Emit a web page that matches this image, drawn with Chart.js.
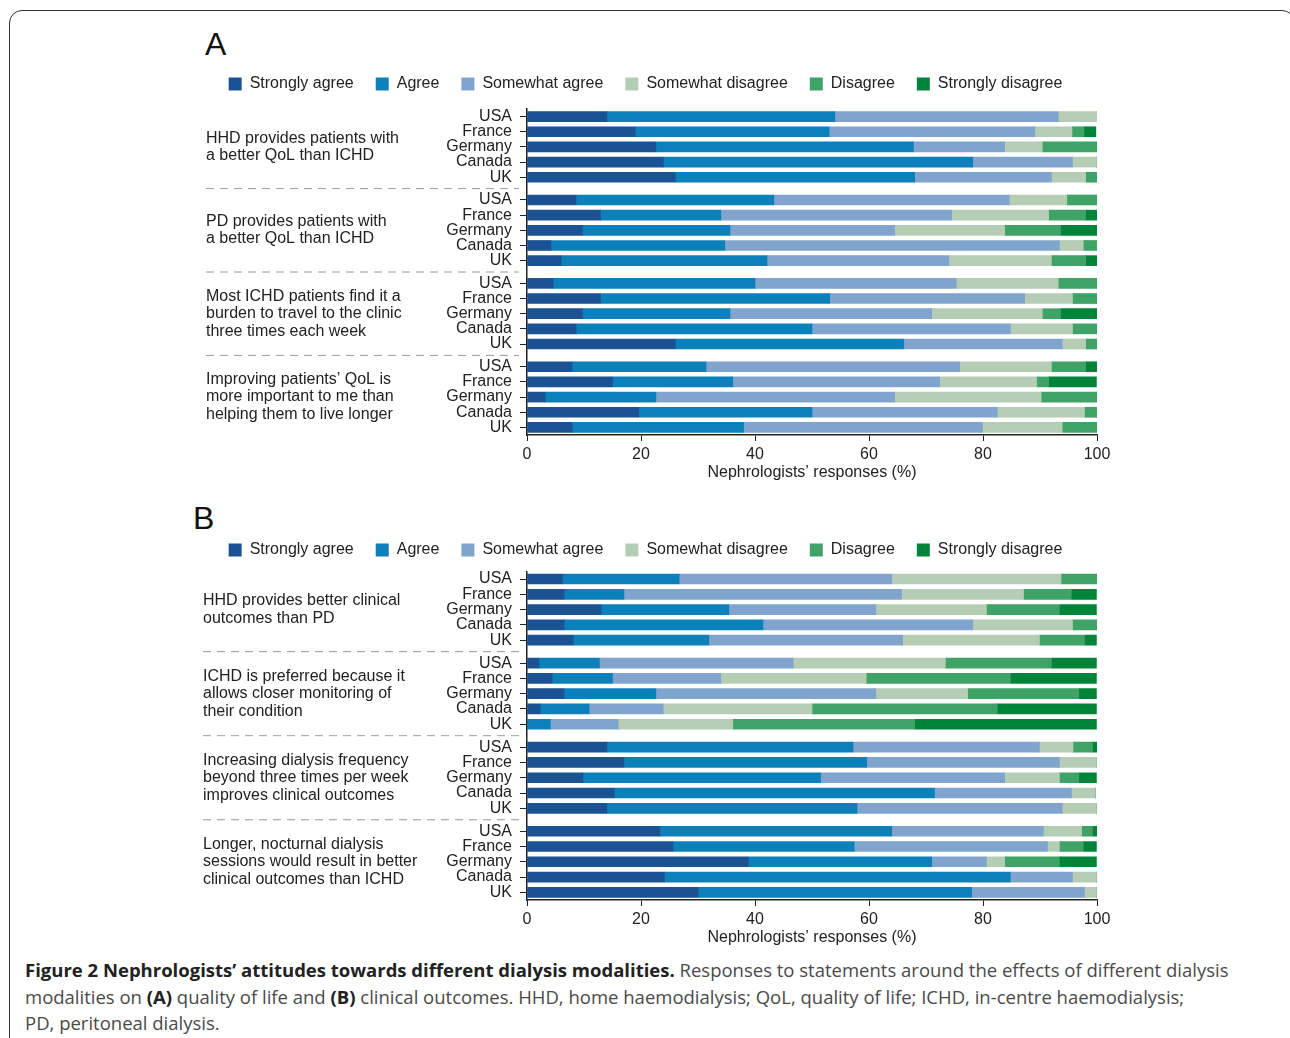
<!DOCTYPE html>
<html>
<head>
<meta charset="utf-8">
<script src="https://cdn.jsdelivr.net/npm/chart.js@4.4.0/dist/chart.umd.min.js"></script>
<style>
  html, body { margin: 0; padding: 0; background: #fff; }
  body { width: 1290px; height: 1038px; position: relative; overflow: hidden; font-family: "Liberation Sans", Arial, sans-serif; }
  .frame { position: absolute; left: 9px; top: 10px; width: 1286px; height: 1100px; border: 1.5px solid #333; border-radius: 13px; box-sizing: border-box; }
  .letter { position: absolute; font-size: 32px; line-height: 1; color: #111; }
  canvas { position: absolute; left: 194px; }
  .caption { position: absolute; left: 25px; top: 957px; font-family: "Open Sans", sans-serif; font-size: 18.5px; line-height: 26.5px; color: #4a4a4a; white-space: nowrap; }
  .caption b { color: #222; }
</style>
</head>
<body>
<div class="frame"></div>
<div class="letter" style="left:205px; top:28px;">A</div>
<div class="letter" style="left:193px; top:502px;">B</div>
<canvas id="chartA" width="1096" height="430" style="top:54px;"></canvas>
<canvas id="chartB" width="1096" height="429" style="top:520px;"></canvas>
<div class="caption">
  <b>Figure 2 Nephrologists’ attitudes towards different dialysis modalities.</b> Responses to statements around the effects of different dialysis<br>
  modalities on <b>(A)</b> quality of life and <b>(B)</b> clinical outcomes. HHD, home haemodialysis; QoL, quality of life; ICHD, in-centre haemodialysis;<br>
  PD, peritoneal dialysis.
</div>
<script>
// categories
const countries = ['USA', 'France', 'Germany', 'Canada', 'UK'];
const seriesNames = ['Strongly agree', 'Agree', 'Somewhat agree', 'Somewhat disagree', 'Disagree', 'Strongly disagree'];
const seriesColors = ['#1a5294', '#0b80ba', '#80a4cd', '#b4cdb4', '#3fa266', '#00843a'];
const xTicks = [0, 20, 40, 60, 80, 100];

const statementsA = [
    ['HHD provides patients with', 'a better QoL than ICHD'],
    ['PD provides patients with', 'a better QoL than ICHD'],
    ['Most ICHD patients find it a', 'burden to travel to the clinic', 'three times each week'],
    ['Improving patients’ QoL is', 'more important to me than', 'helping them to live longer']
];
const statementsB = [
    ['HHD provides better clinical', 'outcomes than PD'],
    ['ICHD is preferred because it', 'allows closer monitoring of', 'their condition'],
    ['Increasing dialysis frequency', 'beyond three times per week', 'improves clinical outcomes'],
    ['Longer, nocturnal dialysis', 'sessions would result in better', 'clinical outcomes than ICHD']
];

// panel A values (%), rows: 4 statements x (USA, France, Germany, Canada, UK)
const aStronglyAgree    = [14, 19, 22.6, 23.9, 26,   8.6, 12.9, 9.7, 4.2, 6,    4.6, 12.9, 9.7, 8.6, 26,    7.9, 15, 3.2, 19.6, 7.9];
const aAgree            = [40, 34, 45.2, 54.3, 42,   34.7, 21.1, 25.9, 30.5, 36.1,  35.4, 40.2, 25.9, 41.4, 40.1,  23.5, 21.1, 19.4, 30.4, 30.1];
const aSomewhatAgree    = [39.2, 36.1, 16, 17.5, 24, 41.3, 40.5, 28.9, 58.7, 31.9,  35.3, 34.2, 35.4, 34.8, 27.8,  44.5, 36.3, 41.9, 32.5, 41.9];
const aSomewhatDisagree = [6.8, 6.5, 6.6, 4.2, 6,    10.1, 17, 19.3, 4.2, 18,   17.9, 8.4, 19.4, 10.9, 4.1,   16.1, 17, 25.7, 15.3, 14];
const aDisagree         = [0, 2.1, 9.6, 0, 2,        5.3, 6.5, 9.8, 2.3, 6,     6.8, 4.3, 3.2, 4.3, 2,     6, 2.1, 9.8, 2.1, 6.1];
const aStronglyDisagree = [0, 2.1, 0, 0, 0,          0, 2, 6.4, 0, 2,           0, 0, 6.4, 0, 0,           2, 8.4, 0, 0, 0];

// panel B values (%)
const bStronglyAgree    = [6.2, 6.5, 13, 6.5, 8.1,   2.1, 4.4, 6.5, 2.3, 0,     14, 17, 9.8, 15.3, 14,     23.3, 25.6, 38.8, 24.1, 30];
const bAgree            = [20.5, 10.5, 22.4, 34.9, 23.8,  10.6, 10.6, 16.1, 8.6, 4.1,  43.2, 42.6, 41.7, 56.2, 43.9,  40.7, 31.8, 32.2, 60.7, 48];
const bSomewhatAgree    = [37.3, 48.7, 25.8, 36.8, 34,  34, 19, 38.6, 13, 11.9,  32.7, 33.8, 32.3, 24, 36,  26.6, 33.9, 9.6, 10.9, 19.8];
const bSomewhatDisagree = [29.7, 21.4, 19.4, 17.5, 24,  26.7, 25.5, 16.1, 26.1, 20.1,  5.9, 6.5, 9.6, 4.2, 6,  6.7, 2.1, 3.2, 4.2, 2.1];
const bDisagree         = [6.2, 8.4, 12.8, 4.2, 7.9,  18.6, 25.3, 19.5, 32.5, 31.9,  3.4, 0, 3.4, 0, 0,  1.9, 4.2, 9.6, 0, 0];
const bStronglyDisagree = [0, 4.4, 6.5, 0, 2.1,  7.9, 15.1, 3.1, 17.4, 31.9,  0.8, 0, 3.1, 0, 0,  0.8, 2.3, 6.5, 0, 0];

// row index on the y scale: groups separated by an extra half row
const groupStep = 5.5;
const rowPos = [];
const rowLabels = [];
for (let g = 0; g < 4; g++) {
    countries.forEach((c, i) => {
        rowPos.push(g * groupStep + i);
        rowLabels.push(c);
    });
}

Chart.defaults.font.family = '"Liberation Sans", Arial, Helvetica, sans-serif';
Chart.defaults.color = '#222';

function makeChart(id, statements, series, labelX, legendExtra, tickPad) {
    const ctx = document.getElementById(id).getContext('2d');

    const statementPlugin = {
        id: 'statements',
        beforeInit(chart) {
            const fit = chart.legend.fit;
            chart.legend.fit = function () {
                fit.call(this);
                this.height += legendExtra;
            };
        },
        afterDraw(chart) {
            const c = chart.ctx;
            const y = chart.scales.y;
            c.save();
            c.font = '16px "Liberation Sans", Arial, sans-serif';
            c.fillStyle = '#222';
            c.textBaseline = 'middle';
            c.textAlign = 'left';
            statements.forEach((lines, g) => {
                const mid = y.getPixelForValue(g * groupStep + 2);
                lines.forEach((t, k) => {
                    c.fillText(t, labelX, mid + (k - (lines.length - 1) / 2) * 17.5);
                });
                if (g > 0) {
                    const yy = y.getPixelForValue(g * groupStep - 0.75);
                    c.setLineDash([8, 6]);
                    c.strokeStyle = '#9a9a9a';
                    c.lineWidth = 1;
                    c.beginPath();
                    c.moveTo(labelX, yy);
                    c.lineTo(chart.chartArea.left - 8, yy);
                    c.stroke();
                }
            });
            c.restore();
        }
    };

    return new Chart(ctx, {
        type: 'bar',
        data: {
            datasets: series.map((vals, s) => ({
                label: seriesNames[s],
                data: vals.map((v, i) => ({ x: v, y: rowPos[i] })),
                backgroundColor: seriesColors[s],
                borderWidth: 0,
                barThickness: 10
            }))
        },
        options: {
            indexAxis: 'y',
            responsive: false,
            animation: false,
            layout: { padding: { left: 0, right: 193, top: 0, bottom: 3 } },
            scales: {
                x: {
                    type: 'linear',
                    stacked: true,
                    min: 0,
                    max: 100,
                    afterBuildTicks: s => { s.ticks = xTicks.map(v => ({ value: v })); },
                    ticks: { font: { size: 16, lineHeight: 1 }, padding: tickPad, maxRotation: 0, color: '#222' },
                    grid: { drawOnChartArea: false, tickLength: 6, color: '#222' },
                    border: { color: '#222', width: 1.5 },
                    title: {
                        display: true,
                        text: 'Nephrologists’ responses (%)',
                        color: '#222',
                        font: { size: 16, lineHeight: 1 },
                        padding: { top: -4, bottom: 0 }
                    }
                },
                y: {
                    type: 'linear',
                    stacked: true,
                    reverse: true,
                    offset: false,
                    min: -0.5,
                    max: 3 * groupStep + 4.5,
                    afterBuildTicks: s => { s.ticks = rowPos.map(v => ({ value: v })); },
                    afterFit: s => { s.width = 333; },
                    ticks: {
                        autoSkip: false,
                        font: { size: 16, lineHeight: 1 },
                        color: '#222',
                        padding: 8,
                        callback: v => rowLabels[rowPos.indexOf(v)]
                    },
                    grid: { drawOnChartArea: false, offset: false, tickLength: 7, color: '#222' },
                    border: { color: '#222', width: 1.5 }
                }
            },
            plugins: {
                legend: {
                    position: 'top',
                    labels: { boxWidth: 13, boxHeight: 13, padding: 22, color: '#222', font: { size: 16 } }
                },
                tooltip: { enabled: false }
            }
        },
        plugins: [statementPlugin]
    });
}

const chartA = makeChart('chartA', statementsA,
    [aStronglyAgree, aAgree, aSomewhatAgree, aSomewhatDisagree, aDisagree, aStronglyDisagree], 12, 7, 6);
const chartB = makeChart('chartB', statementsB,
    [bStronglyAgree, bAgree, bSomewhatAgree, bSomewhatDisagree, bDisagree, bStronglyDisagree], 9, 3.4, 6);
</script>
</body>
</html>
